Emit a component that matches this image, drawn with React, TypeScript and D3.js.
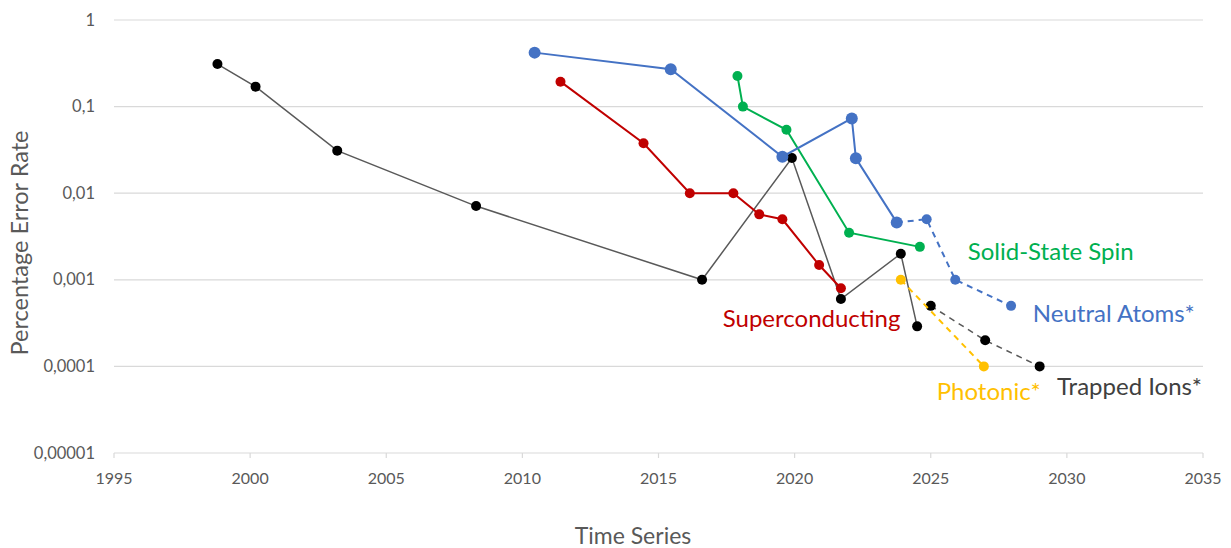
import React from "react";
import * as d3 from "d3";

// years / error rates
const trappedYears = [1998.8, 2000.2, 2003.2, 2008.3, 2016.6, 2019.9, 2021.7, 2023.9, 2024.5];
const trappedRates = [0.31, 0.17, 0.031, 0.0071, 0.001, 0.0255, 0.0006, 0.002, 0.00029];
const trappedProjYears = [2025, 2027, 2029];
const trappedProjRates = [0.0005, 0.0002, 0.0001];

const superYears = [2011.4, 2014.45, 2016.15, 2017.75, 2018.7, 2019.55, 2020.9, 2021.7];
const superRates = [0.194, 0.0377, 0.01, 0.01, 0.0057, 0.005, 0.00148, 0.0008];

const spinYears = [2017.9, 2018.1, 2019.7, 2022.0, 2024.6];
const spinRates = [0.226, 0.1, 0.054, 0.0035, 0.0024];

const atomYears = [2010.45, 2015.45, 2019.55, 2022.1, 2022.25, 2023.75];
const atomRates = [0.42, 0.27, 0.0264, 0.073, 0.0253, 0.0046];
// projected part starts from the last measured point
const atomProjYears = [2023.75, 2024.85, 2025.9, 2027.95];
const atomProjRates = [0.0046, 0.005, 0.001, 0.0005];

const photonYears = [2023.9, 2026.95];
const photonRates = [0.001, 0.0001];

const yTicks = [1, 0.1, 0.01, 0.001, 0.0001, 0.00001];
const xTicks = [1995, 2000, 2005, 2010, 2015, 2020, 2025, 2030, 2035];

const series = [
  { years: trappedYears, rates: trappedRates, line: "#595959", dot: "#000000", r: 5, w: 1.5, dash: null, skipFirst: false },
  { years: trappedProjYears, rates: trappedProjRates, line: "#595959", dot: "#000000", r: 5, w: 1.5, dash: "6 5", skipFirst: false },
  { years: superYears, rates: superRates, line: "#C00000", dot: "#C00000", r: 5, w: 2, dash: null, skipFirst: false },
  { years: spinYears, rates: spinRates, line: "#00B050", dot: "#00B050", r: 5, w: 2, dash: null, skipFirst: false },
  { years: atomYears, rates: atomRates, line: "#4472C4", dot: "#4472C4", r: 6, w: 2, dash: null, skipFirst: false },
  { years: atomProjYears, rates: atomProjRates, line: "#4472C4", dot: "#4472C4", r: 5, w: 2, dash: "6 5", skipFirst: true },
  { years: photonYears, rates: photonRates, line: "#FFC000", dot: "#FFC000", r: 5, w: 2, dash: "6 5", skipFirst: false },
];

const labels = [
  { text: "Superconducting", x: 2017.36, y: 0.000285, color: "#C00000" },
  { text: "Solid-State Spin", x: 2026.36, y: 0.00169, color: "#00B050" },
  { text: "Neutral Atoms*", x: 2028.75, y: 0.000326, color: "#4472C4" },
  { text: "Photonic*", x: 2025.22, y: 0.0000405, color: "#FFC000" },
  { text: "Trapped Ions*", x: 2029.64, y: 0.0000467, color: "#404040" },
];

const W = 1231;
const H = 548;
const FONT = "Lato, 'Open Sans', sans-serif";

const App = () => {
  const svgRef = React.useRef(null);

  React.useEffect(() => {
    const x = d3.scaleLinear().domain([1995, 2035]).range([114, 1203]);
    const y = d3.scaleLog().domain([0.00001, 1]).range([453, 20]);

    const svg = d3.select(svgRef.current);
    svg.selectAll("*").remove();

    // horizontal gridlines
    svg.append("g")
      .selectAll("line")
      .data(yTicks)
      .enter().append("line")
      .attr("x1", x(1995)).attr("x2", x(2035))
      .attr("y1", d => y(d)).attr("y2", d => y(d))
      .attr("stroke", "#d9d9d9")
      .attr("stroke-width", 1.2);

    // x ticks
    svg.append("g")
      .selectAll("line")
      .data(xTicks)
      .enter().append("line")
      .attr("x1", d => x(d)).attr("x2", d => x(d))
      .attr("y1", y(0.00001)).attr("y2", y(0.00001) + 5)
      .attr("stroke", "#d9d9d9")
      .attr("stroke-width", 1.2);

    svg.append("g")
      .selectAll("text")
      .data(xTicks)
      .enter().append("text")
      .attr("x", d => x(d))
      .attr("y", 484)
      .attr("text-anchor", "middle")
      .attr("font-family", FONT)
      .attr("font-size", 16)
      .attr("fill", "#595959")
      .text(d => d);

    svg.append("g")
      .selectAll("text")
      .data(yTicks)
      .enter().append("text")
      .attr("x", 95)
      .attr("y", d => y(d) + 5.5)
      .attr("text-anchor", "end")
      .attr("font-family", FONT)
      .attr("font-size", 16.5)
      .attr("fill", "#595959")
      .text(d => String(d.toFixed(Math.max(0, -Math.round(Math.log10(d))))).replace(".", ","));

    // axis titles
    svg.append("text")
      .attr("x", 633).attr("y", 544)
      .attr("text-anchor", "middle")
      .attr("font-family", FONT)
      .attr("font-size", 23)
      .attr("fill", "#595959")
      .text("Time Series");

    svg.append("text")
      .attr("transform", "translate(28,243) rotate(-90)")
      .attr("text-anchor", "middle")
      .attr("font-family", FONT)
      .attr("font-size", 23.5)
      .attr("fill", "#595959")
      .text("Percentage Error Rate");

    // series lines and markers
    const line = d3.line().x(d => x(d[0])).y(d => y(d[1]));
    series.forEach(s => {
      const pts = s.years.map((yr, i) => [yr, s.rates[i]]);
      const g = svg.append("g");
      g.append("path")
        .attr("d", line(pts))
        .attr("fill", "none")
        .attr("stroke", s.line)
        .attr("stroke-width", s.w)
        .attr("stroke-dasharray", s.dash);
      g.selectAll("circle")
        .data(s.skipFirst ? pts.slice(1) : pts)
        .enter().append("circle")
        .attr("cx", d => x(d[0]))
        .attr("cy", d => y(d[1]))
        .attr("r", s.r)
        .attr("fill", s.dot);
    });

    // direct labels
    svg.append("g")
      .selectAll("text")
      .data(labels)
      .enter().append("text")
      .attr("x", d => x(d.x))
      .attr("y", d => y(d.y))
      .attr("font-family", FONT)
      .attr("font-size", 24)
      .attr("fill", d => d.color)
      .text(d => d.text);
  }, []);

  return (
    <svg
      ref={svgRef}
      width={W}
      height={H}
      style={{ position: "absolute", left: 0, top: 0, background: "#fff" }}
    />
  );
};

export default App;
